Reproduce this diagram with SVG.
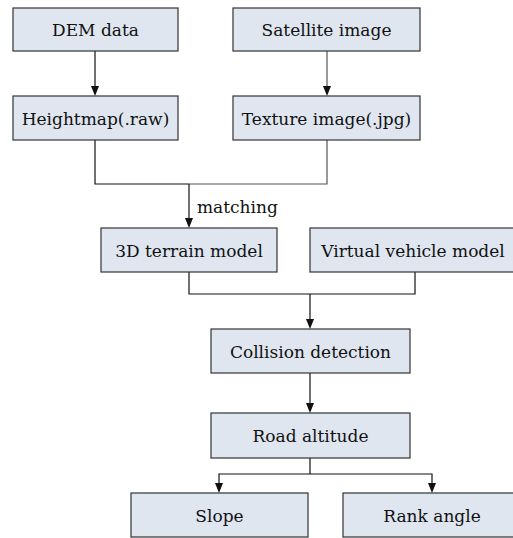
<svg xmlns="http://www.w3.org/2000/svg" width="513" height="538" viewBox="0 0 513 538">
<style>
.box{fill:#dfe6f0;stroke:#333;stroke-width:1.2}
text{font-family:'DejaVu Serif',serif;font-size:17px;fill:#111;text-anchor:middle}
.c{fill:none;stroke:#111;stroke-width:1.2}
.g{stroke:#555}
.ah{fill:#111}
</style>
<g id="connectors">
<path class="c" d="M95,51 V86"/>
<path class="ah" d="M91,86 L99,86 L95,96 Z"/>
<path class="c g" d="M327,51 V86"/>
<path class="ah" d="M323,86 L331,86 L327,96 Z"/>
<path class="c" d="M95,140 V184 H189"/>
<path class="c g" d="M327,140 V184 H189"/>
<path class="c" d="M189,184 V218"/>
<path class="ah" d="M185,218 L193,218 L189,228 Z"/>
<path class="c" d="M189,272 V294 H415 V272"/>
<path class="c" d="M310,294 V319"/>
<path class="ah" d="M306,319 L314,319 L310,329 Z"/>
<path class="c" d="M310,373 V403"/>
<path class="ah" d="M306,403 L314,403 L310,413 Z"/>
<path class="c" d="M310,458 V474 M219,483 V474 H432 V483"/>
<path class="ah" d="M215,483 L223,483 L219,493 Z"/>
<path class="ah" d="M428,483 L436,483 L432,493 Z"/>
<text x="197" y="213" style="text-anchor:start">matching</text>
</g>
<g id="dem"><rect class="box" x="13" y="8" width="165" height="43"/><text x="95.5" y="36">DEM data</text></g>
<g id="satellite"><rect class="box" x="233" y="8" width="187" height="43"/><text x="326.5" y="36">Satellite image</text></g>
<g id="heightmap"><rect class="box" x="13" y="96" width="165" height="44"/><text x="95.5" y="124.5">Heightmap(.raw)</text></g>
<g id="texture"><rect class="box" x="233" y="96" width="187" height="44"/><text x="326.5" y="124.5">Texture image(.jpg)</text></g>
<g id="terrain"><rect class="box" x="101" y="228" width="176" height="44"/><text x="189" y="256.5">3D terrain model</text></g>
<g id="vehicle"><rect class="box" x="310" y="228" width="212" height="44"/><text x="413" y="256.5">Virtual vehicle model</text></g>
<g id="collision"><rect class="box" x="211" y="329" width="199" height="44"/><text x="310.5" y="357.5">Collision detection</text></g>
<g id="road"><rect class="box" x="211" y="413" width="199" height="45"/><text x="310.5" y="442">Road altitude</text></g>
<g id="slope"><rect class="box" x="131" y="493" width="177" height="44"/><text x="219.5" y="521.5">Slope</text></g>
<g id="rank"><rect class="box" x="343" y="493" width="180" height="44"/><text x="432" y="521.5">Rank angle</text></g>
</svg>
